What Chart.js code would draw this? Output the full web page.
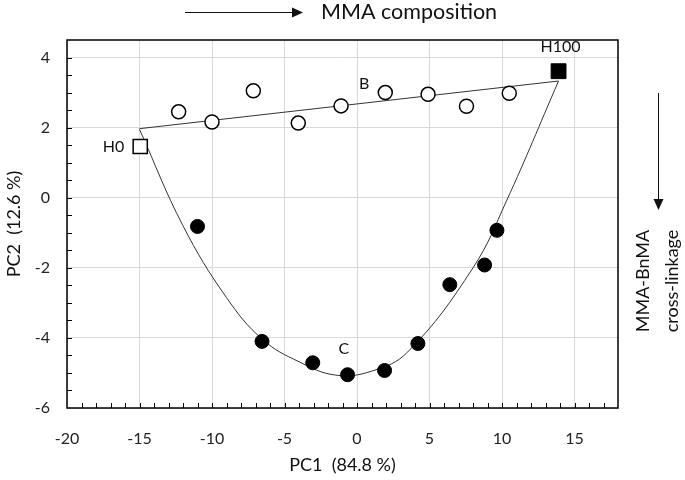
<!DOCTYPE html>
<html>
<head>
<meta charset="utf-8">
<script src="https://cdn.jsdelivr.net/npm/chart.js@4.4.1/dist/chart.umd.min.js"></script>
<style>
  html, body { margin: 0; padding: 0; background: #fff; }
  #wrap { width: 685px; height: 480px; position: relative; }
</style>
</head>
<body>
<div id="wrap"><canvas id="pcaChart" width="685" height="480"></canvas></div>
<script>
// Series B (open circles) - composition series
const seriesBx = [-12.3, -10.0, -7.15, -4.05, -1.1, 1.95, 4.9, 7.55, 10.5];
const seriesBy = [2.45, 2.16, 3.05, 2.13, 2.62, 3.0, 2.95, 2.61, 2.98];

// Series C (filled circles) - cross-linkage series
const seriesCx = [-11.0, -6.55, -3.05, -0.65, 1.9, 4.2, 6.4, 8.8, 9.65];
const seriesCy = [-0.82, -4.1, -4.71, -5.05, -4.93, -4.16, -2.48, -1.92, -0.93];

// homopolymers
const h0 = [-14.95, 1.46];
const h100 = [13.9, 3.61];

// guide lines
const lineBx = [-15, 13.9];
const lineBy = [1.97, 3.33];
const curveCx = [-15, -12, -9, -6.5, -4, -1.5, 1, 3.5, 8, 10.3, 13.9];
const curveCy = [1.95, -0.8, -2.85, -4.05, -4.68, -5.06, -4.95, -4.4, -2, -0.1, 3.33];

// axis ranges / ticks
const xRange = [-20, 18];
const yRange = [-6, 4.5];
const xStep = 5;
const yStep = 2;

const FONT = 'Lato, "Open Sans", sans-serif';
const toPts = (xs, ys) => xs.map((x, i) => ({ x: x, y: ys[i] }));

// frame, minor ticks, annotations and point labels
const decorPlugin = {
    id: 'decor',
    afterDraw(chart) {
        const ctx = chart.ctx;
        const a = chart.chartArea;
        const xs = chart.scales.x;
        const ys = chart.scales.y;
        ctx.save();

        // frame
        ctx.strokeStyle = '#000';
        ctx.lineWidth = 1.5;
        ctx.strokeRect(a.left, a.top, a.right - a.left, a.bottom - a.top);

        // minor ticks (inside)
        ctx.lineWidth = 1;
        ctx.beginPath();
        for (let v = xRange[0] + 1; v < xRange[1]; v += 1) {
            const px = Math.round(xs.getPixelForValue(v)) + 0.5;
            ctx.moveTo(px, a.bottom);
            ctx.lineTo(px, a.bottom - 5);
        }
        for (let v = yRange[0] + 0.5; v < yRange[1]; v += 0.5) {
            const py = Math.round(ys.getPixelForValue(v)) + 0.5;
            ctx.moveTo(a.left, py);
            ctx.lineTo(a.left + 5, py);
        }
        ctx.stroke();

        ctx.fillStyle = '#111';
        ctx.textBaseline = 'middle';

        // point labels
        ctx.font = '16px ' + FONT;
        ctx.textAlign = 'right';
        ctx.fillText('H0', xs.getPixelForValue(h0[0]) - 16, ys.getPixelForValue(h0[1]));
        ctx.textAlign = 'center';
        ctx.fillText('H100', xs.getPixelForValue(h100[0]) + 2, ys.getPixelForValue(h100[1]) - 24);
        ctx.fillText('B', xs.getPixelForValue(0.5), ys.getPixelForValue(3.25));
        ctx.fillText('C', xs.getPixelForValue(-0.9), ys.getPixelForValue(-4.3));

        // axis titles
        ctx.font = '18px ' + FONT;
        ctx.fillText('PC1  (84.8 %)', (a.left + a.right) / 2, 465);
        ctx.save();
        ctx.translate(14, (a.top + a.bottom) / 2);
        ctx.rotate(-Math.PI / 2);
        ctx.fillText('PC2  (12.6 %)', 0, 0);
        ctx.restore();

        // top annotation: arrow + text
        ctx.strokeStyle = '#111';
        ctx.lineWidth = 1;
        ctx.beginPath();
        ctx.moveTo(185, 12.5);
        ctx.lineTo(296, 12.5);
        ctx.stroke();
        ctx.beginPath();
        ctx.moveTo(303, 12.5);
        ctx.lineTo(292, 7.5);
        ctx.lineTo(292, 17.5);
        ctx.closePath();
        ctx.fill();
        ctx.font = '21.5px ' + FONT;
        ctx.textAlign = 'left';
        ctx.fillText('MMA composition', 321, 12);

        // right annotation: arrow + rotated text
        ctx.beginPath();
        ctx.moveTo(658.5, 93);
        ctx.lineTo(658.5, 203);
        ctx.stroke();
        ctx.beginPath();
        ctx.moveTo(658.5, 210);
        ctx.lineTo(653.5, 199);
        ctx.lineTo(663.5, 199);
        ctx.closePath();
        ctx.fill();
        ctx.font = '18px ' + FONT;
        ctx.textAlign = 'center';
        ctx.save();
        ctx.translate(643, 281);
        ctx.rotate(-Math.PI / 2);
        ctx.fillText('MMA-BnMA', 0, 0);
        ctx.restore();
        ctx.save();
        ctx.translate(672, 281);
        ctx.rotate(-Math.PI / 2);
        ctx.fillText('cross-linkage', 0, 0);
        ctx.restore();

        ctx.restore();
    }
};

const ctx = document.getElementById('pcaChart').getContext('2d');
const pcaChart = new Chart(ctx, {
    type: 'scatter',
    data: {
        datasets: [
            {
                label: 'B',
                data: toPts(seriesBx, seriesBy),
                pointStyle: 'circle',
                pointRadius: 7,
                backgroundColor: '#fff',
                borderColor: '#000',
                borderWidth: 1.5,
                order: 1
            },
            {
                label: 'C',
                data: toPts(seriesCx, seriesCy),
                pointStyle: 'circle',
                pointRadius: 7,
                backgroundColor: '#000',
                borderColor: '#000',
                borderWidth: 1,
                order: 1
            },
            {
                label: 'H0',
                data: [{ x: h0[0], y: h0[1] }],
                pointStyle: 'rect',
                pointRadius: 10,
                backgroundColor: '#fff',
                borderColor: '#000',
                borderWidth: 1.5,
                order: 1
            },
            {
                label: 'H100',
                data: [{ x: h100[0], y: h100[1] }],
                pointStyle: 'rect',
                pointRadius: 10.5,
                backgroundColor: '#000',
                borderColor: '#000',
                borderWidth: 1,
                order: 1
            },
            {
                label: 'line B',
                data: toPts(lineBx, lineBy),
                showLine: true,
                pointRadius: 0,
                borderColor: '#333',
                borderWidth: 1,
                order: 2
            },
            {
                label: 'curve C',
                data: toPts(curveCx, curveCy),
                showLine: true,
                pointRadius: 0,
                borderColor: '#333',
                borderWidth: 1,
                tension: 0.4,
                order: 2
            }
        ]
    },
    options: {
        responsive: false,
        animation: false,
        layout: {
            padding: { top: 40, right: 67, left: 0, bottom: 0 }
        },
        scales: {
            x: {
                type: 'linear',
                min: xRange[0],
                max: xRange[1],
                border: { display: false },
                grid: { color: '#d9d9d9', lineWidth: 1, drawTicks: false },
                ticks: {
                    stepSize: xStep,
                    includeBounds: false,
                    padding: 21,
                    color: '#222',
                    font: { family: FONT, size: 16 },
                    maxRotation: 0
                },
                afterFit(scale) { scale.height = 72; }
            },
            y: {
                type: 'linear',
                min: yRange[0],
                max: yRange[1],
                border: { display: false },
                grid: { color: '#d9d9d9', lineWidth: 1, drawTicks: false },
                ticks: {
                    stepSize: yStep,
                    includeBounds: false,
                    padding: 17,
                    color: '#222',
                    font: { family: FONT, size: 16 }
                },
                afterFit(scale) { scale.width = 67; }
            }
        },
        plugins: {
            legend: { display: false },
            tooltip: { enabled: false }
        }
    },
    plugins: [decorPlugin]
});
</script>
</body>
</html>
